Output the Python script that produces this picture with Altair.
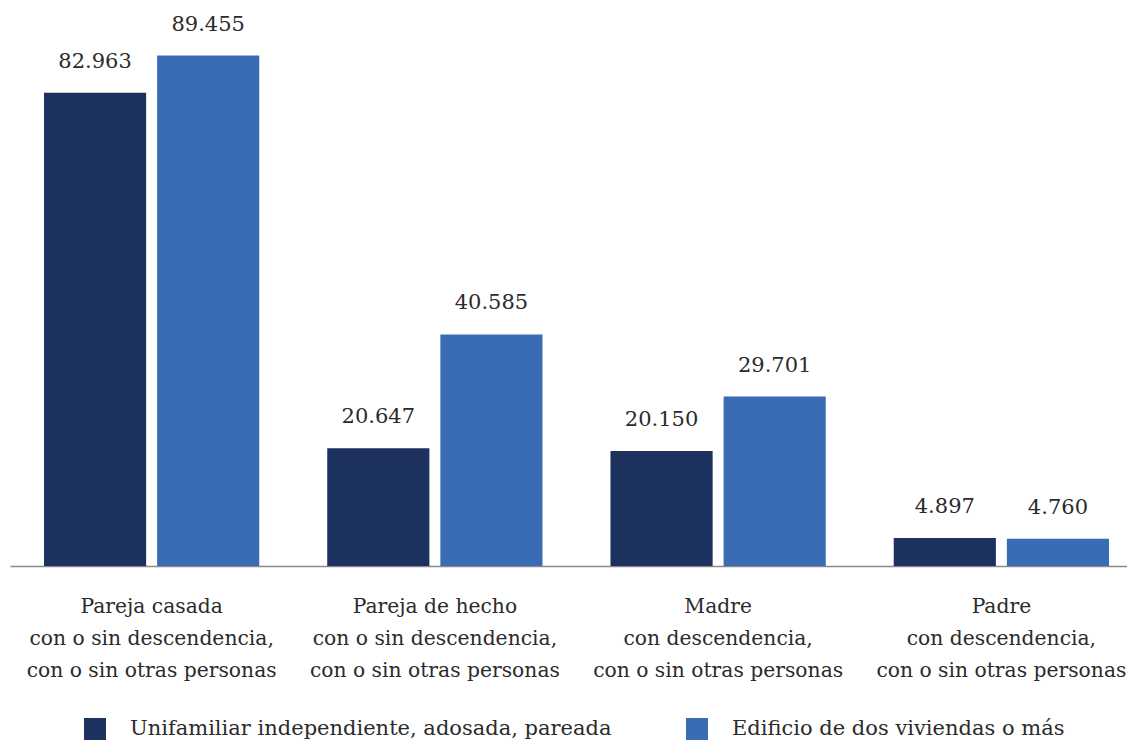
import altair as alt
import pandas as pd

categories = [
    "Pareja casada|con o sin descendencia,|con o sin otras personas",
    "Pareja de hecho|con o sin descendencia,|con o sin otras personas",
    "Madre|con descendencia,|con o sin otras personas",
    "Padre|con descendencia,|con o sin otras personas",
]
series = ["Unifamiliar independiente, adosada, pareada", "Edificio de dos viviendas o más"]
unifamiliar = [82.963, 20.647, 20.150, 4.897]
edificio = [89.455, 40.585, 29.701, 4.760]
colors = ["#1c315e", "#3a6cb5"]

rows = []
for c, a, b in zip(categories, unifamiliar, edificio):
    rows.append({"cat": c, "serie": series[0], "value": a})
    rows.append({"cat": c, "serie": series[1], "value": b})
df = pd.DataFrame(rows)

FONT = "DejaVu Serif"
FS = 21

x = alt.X("cat:N", sort=categories, title=None,
          scale=alt.Scale(range=[0, 1133], paddingInner=0.24, paddingOuter=0.12, round=False),
          axis=alt.Axis(labelAngle=0, ticks=False, labelExpr="split(datum.label, '|')",
                        labelFontSize=20.3, labelLineHeight=32,
                        labelColor="#2b2b2b", labelPadding=30, domainColor="#8a8a8a",
                        domainWidth=1.5, labelLimit=400))
xo = alt.XOffset("serie:N", sort=series,
                 scale=alt.Scale(paddingInner=0.097, paddingOuter=0))
y = alt.Y("value:Q", axis=None,
          scale=alt.Scale(domain=[0, 97.8], nice=False, zero=True))

base = alt.Chart(df).encode(x=x, xOffset=xo, y=y)

bars = base.mark_bar().encode(
    color=alt.Color("serie:N", sort=series,
                    scale=alt.Scale(domain=series, range=colors),
                    legend=alt.Legend(title=None, orient="none", legendX=74, legendY=710,
                                      direction="horizontal", padding=0,
                                      symbolType="square", symbolSize=484,
                                      symbolStrokeWidth=0, symbolOpacity=1,
                                      labelFontSize=FS,
                                      labelColor="#2b2b2b", labelOffset=24,
                                      columnPadding=74, labelLimit=600))
)

labels = base.mark_text(fontSize=FS, color="#2b2b2b",
                        baseline="alphabetic", dy=-25).encode(
    text=alt.Text("value:Q", format=".3f")
)

chart = (bars + labels).properties(
    width=1117, height=558,
    autosize=alt.AutoSizeParams(type="none"),
    padding={"left": 2, "top": 0, "right": 0, "bottom": 174},
).configure(font=FONT).configure_view(stroke=None)

chart.save("out.html", embed_options={"renderer": "svg", "actions": False})
